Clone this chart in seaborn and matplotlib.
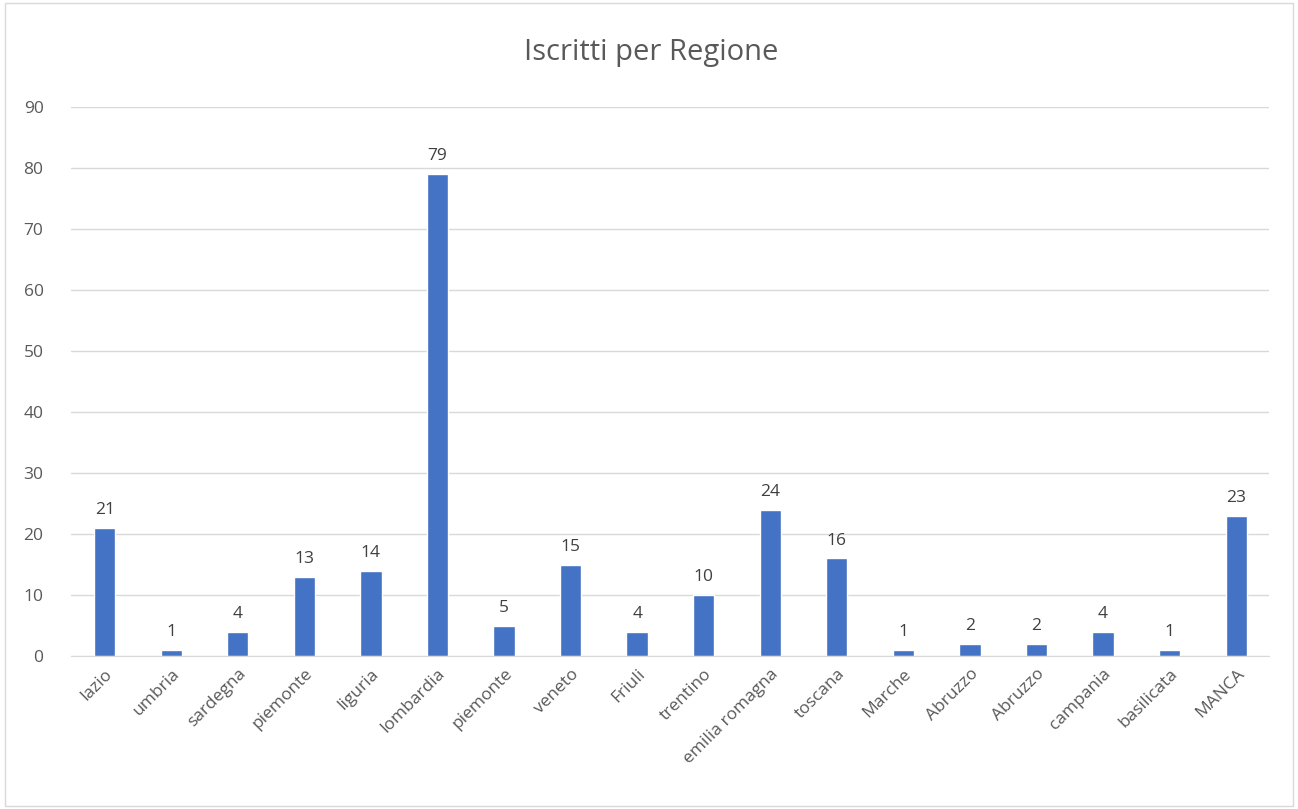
import matplotlib.pyplot as plt
import pandas as pd
import seaborn as sns

regions = ["lazio", "umbria", "sardegna", "piemonte", "liguria", "lombardia",
           "piemonte", "veneto", "Friuli", "trentino", "emilia romagna", "toscana",
           "Marche", "Abruzzo", "Abruzzo", "campania", "basilicata", "MANCA"]
counts = [21, 1, 4, 13, 14, 79, 5, 15, 4, 10, 24, 16, 1, 2, 2, 4, 1, 23]

sns.set_style("white")
plt.rcParams["font.family"] = ["Open Sans", "DejaVu Sans"]

text_color = "#595959"
df = pd.DataFrame({"pos": range(len(regions)), "count": counts})

fig = plt.figure(figsize=(12.98, 8.09), dpi=100)
ax = fig.add_axes([0.055, 0.189, 0.923, 0.679])
sns.barplot(data=df, x="pos", y="count", color="#4472C4", width=0.32,
            saturation=1, ax=ax, zorder=3)

for p, c in zip(ax.patches, counts):
    ax.annotate(str(c), (p.get_x() + p.get_width() / 2, p.get_height()),
                xytext=(0, 7), textcoords="offset points", ha="center", va="bottom",
                fontsize=12.5, color="#404040")

ax.set_ylim(0, 90)
ax.set_yticks(range(0, 91, 10))
ax.set_xlim(-0.5, len(regions) - 0.5)
ax.set_xticks(range(len(regions)))
ax.set_xticklabels(regions, rotation=45, ha="right", rotation_mode="anchor")
ax.tick_params(axis="both", length=0, labelsize=12.5, labelcolor=text_color)
ax.tick_params(axis="x", pad=7)
ax.tick_params(axis="y", pad=20)
ax.set_xlabel("")
ax.set_ylabel("")
ax.grid(axis="y", color="#D9D9D9", linewidth=1, zorder=0)
for side in ["top", "right", "left"]:
    ax.spines[side].set_visible(False)
ax.spines["bottom"].set_color("#D9D9D9")
ax.spines["bottom"].set_zorder(4)

fig.text(0.502, 0.935, "Iscritti per Regione", ha="center", va="center",
         fontsize=21, color=text_color)

border = plt.Rectangle((0.004, 0.004), 0.992, 0.992, transform=fig.transFigure,
                       fill=False, edgecolor="#D9D9D9", linewidth=1)
fig.patches.append(border)

fig.savefig("out.png", dpi=100)
plt.close(fig)
